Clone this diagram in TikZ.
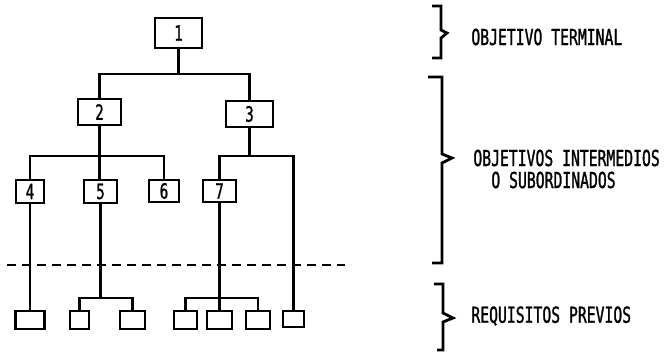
\documentclass[tikz,border=0pt]{standalone}
\usepackage{fontspec}
\newfontfamily\lblfont[FakeStretch=0.67,FakeBold=1.2]{DejaVu Sans Mono}
\begin{document}
\begin{tikzpicture}[x=1pt,y=-1pt,
  line width=2.8pt,
  bx/.style={draw, line width=2.8pt, inner sep=0pt, font=\lblfont\fontsize{21}{22}\selectfont},
  lbl/.style={inner sep=0pt, anchor=west, font=\lblfont\fontsize{22}{22}\selectfont},
  brc/.style={line width=2.8pt, line join=miter}]
\useasboundingbox (0,0) rectangle (670,352);
% level 1
\node[bx, minimum width=47pt, minimum height=30pt] (n1) at (178.5,33) {1};
% level 2
\node[bx, minimum width=43pt, minimum height=26pt] (n2) at (99.5,112) {2};
\node[bx, minimum width=47pt, minimum height=26pt] (n3) at (249.5,114) {3};
% level 3
\node[bx, minimum width=28pt, minimum height=23pt] (n4) at (30,191.5) {4};
\node[bx, minimum width=33pt, minimum height=23pt] (n5) at (100.5,191.5) {5};
\node[bx, minimum width=30pt, minimum height=22pt] (n6) at (164,191) {6};
\node[bx, minimum width=33pt, minimum height=22pt] (n7) at (219.5,191) {7};
% prerequisites
\node[bx, minimum width=29pt, minimum height=18pt] (r1) at (30,320) {};
\node[bx, minimum width=19pt, minimum height=18pt] (r2) at (79.5,320) {};
\node[bx, minimum width=25pt, minimum height=18pt] (r3) at (132.5,320) {};
\node[bx, minimum width=23pt, minimum height=18pt] (r4) at (185.5,320) {};
\node[bx, minimum width=25pt, minimum height=18pt] (r5) at (219.5,320) {};
\node[bx, minimum width=24pt, minimum height=18pt] (r6) at (258,320) {};
\node[bx, minimum width=21pt, minimum height=16pt] (r7) at (293.5,319) {};
% junctions
\coordinate (j1) at (178.5,74);
\coordinate (j2) at (99.5,156);
\coordinate (j3) at (249.5,156);
\coordinate (j4) at (100.5,298);
\coordinate (j5) at (219.5,298);
% connectors
\draw (n1.south) -- (j1);
\draw (n2.north) |- (j1) -| (n3.north);
\draw (n2.south) -- (j2);
\draw (n4.north) |- (j2) -| (n6.north);
\draw (j2) -- (n5.north -| j2);
\draw (n3.south) -- (j3);
\draw (n7.north) |- (j3) -| (r7.north);
\draw (n4.south) -- (r1.north);
\draw (n5.south) -- (j4);
\draw (r2.north) |- (j4) -| (r3.north);
\draw (n7.south) -- (j5);
\draw (r4.north) |- (j5) -| (r6.north);
\draw (j5) -- (r5.north);
% dashed divider
\coordinate (d1) at (7,265);
\coordinate (d2) at (345,265);
\draw[dash pattern=on 9pt off 6pt] (d1) -- (d2);
% braces
\draw[brc] (432,6) -- (441,6) -- (441,30) -- (447,33) -- (441,38) -- (441,58) -- (432,58);
\draw[brc] (428,77) -- (442,77) -- (442,154) -- (452,158) -- (442,163) -- (442,263) -- (432,263);
\draw[brc] (434,284) -- (443,284) -- (443,313) -- (453,318) -- (443,322) -- (443,350) -- (437,350);
% labels
\node[lbl] (t1) at (470,37) {OBJETIVO TERMINAL};
\node[lbl] (t2) at (472,158) {OBJETIVOS INTERMEDIOS};
\node[lbl] (t3) at (490,180) {O SUBORDINADOS};
\node[lbl] (t4) at (470,316) {REQUISITOS PREVIOS};
\end{tikzpicture}
\end{document}
